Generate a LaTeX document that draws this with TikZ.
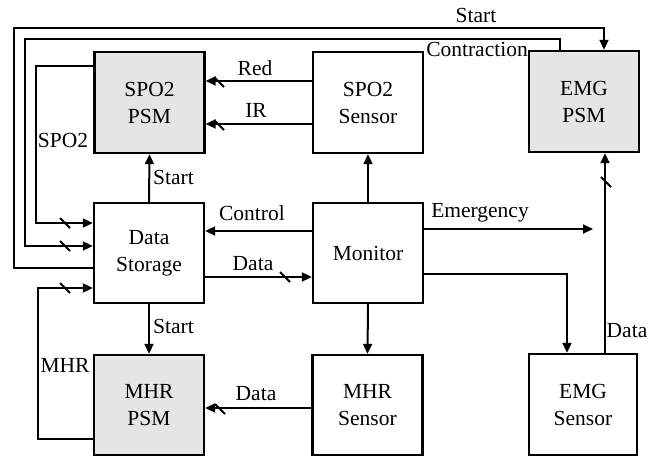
\documentclass[tikz,border=0pt]{standalone}
\usepackage{fontspec}
\setmainfont{Liberation Serif}
\usetikzlibrary{arrows.meta,calc}
\begin{document}
\begin{tikzpicture}[x=1pt,y=-1pt,
  font=\fontsize{21.5}{27}\selectfont,
  blk/.style={draw,line width=2.4pt,minimum width=110pt,minimum height=101pt,
    align=center,inner sep=0pt},
  psm/.style={blk,fill=black!10},
  wire/.style={line width=2pt},
  arr/.style={wire,-{Triangle[length=10pt,width=9pt]}},
  lbl/.style={anchor=base,inner sep=0pt},
  slashmark/.pic={\draw[line width=2pt] (-5,-5) -- (5,5);}]
\useasboundingbox (0,0) rectangle (661,457);

% blocks
\node[psm] (spsm) at (149.5,102.5) {SPO2\\PSM};
\node[blk] (ssen) at (368,102.5) {SPO2\\Sensor};
\node[psm] (epsm) at (584,101.5) {EMG\\PSM};
\node[blk,minimum height=100pt] (ds) at (149,253) {Data\\Storage};
\node[blk,minimum height=100pt] (mon) at (368,253) {Monitor};
\node[psm,minimum height=100pt] (mpsm) at (149,405) {MHR\\PSM};
\node[blk,minimum height=100pt] (msen) at (367.5,405) {MHR\\Sensor};
\node[blk,minimum width=108pt] (esen) at (583,404.5) {EMG\\Sensor};

% sensor signals into the SPO2 processing module
\draw[arr] (ssen.west |- 0,81) -- (spsm.east |- 0,81);
\draw[arr] (ssen.west |- 0,124) -- (spsm.east |- 0,124);
\pic at (219,82) {slashmark};
\pic at (219,125) {slashmark};
\node[lbl] at (255,76) {Red};
\node[lbl] at (256,118) {IR};

% storage <-> processing modules
\draw[arr] (ds.north) -- (spsm.south);
\node[lbl,anchor=base west] at (153,185) {Start};
\draw[arr] (ds.south) -- (mpsm.north);
\node[lbl,anchor=base west] at (153,333) {Start};

% feedback loops on the left
\draw[arr] (spsm.west |- 0,66) -| (36,223) -- (ds.west |- 0,223);
\pic at (65,223) {slashmark};
\node[lbl] at (63,148) {SPO2};

\draw[arr] ([xshift=-24pt]epsm.north) |- (25,39) |- (ds.west |- 0,246);
\pic at (65,246) {slashmark};
\node[lbl] at (477,57) {Contraction};

\draw[arr] (ds.west |- 0,268) -- (14,268) -- (14,28) -| ([xshift=20pt]epsm.north);
\node[lbl] at (476,23) {Start};

\draw[arr] (mpsm.west |- 0,439) -| (38,288) -- (ds.west |- 0,288);
\pic at (65,288) {slashmark};
\node[lbl] at (65,372) {MHR};

% storage <-> monitor
\draw[arr] (mon.west |- 0,231) -- (ds.east |- 0,231);
\node[lbl] at (252,221) {Control};
\draw[arr] (ds.east |- 0,277) -- (mon.west |- 0,277);
\pic at (285,277) {slashmark};
\node[lbl] at (253,270) {Data};

% monitor to sensors
\draw[arr] (mon.north) -- (ssen.south);
\draw[arr] (mon.south) -- (msen.north);
\draw[arr] (mon.east |- 0,274) -| ([xshift=-16pt]esen.north);
\coordinate (emg) at (593,229);
\draw[arr] (mon.east |- 0,229) -- (emg);
\node[lbl] at (480,218) {Emergency};

% MHR sensor data
\draw[arr] (msen.west |- 0,408) -- (mpsm.east |- 0,408);
\pic at (220,409) {slashmark};
\node[lbl] at (256,400) {Data};

% EMG sensor data
\draw[arr] ([xshift=22pt]esen.north) -- ([xshift=22pt]esen.north |- epsm.south);
\pic at (606,182) {slashmark};
\node[lbl] at (627,337) {Data};
\end{tikzpicture}
\end{document}
